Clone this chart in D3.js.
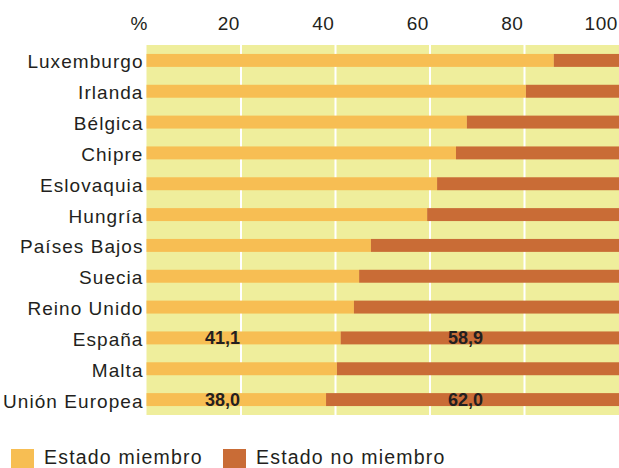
<!DOCTYPE html>
<html><head><meta charset="utf-8">
<script src="https://cdn.jsdelivr.net/npm/d3@7"></script>
<style>
html,body{margin:0;padding:0;background:#fff;}
svg{display:block;}
text{font-family:"Liberation Sans",Arial,sans-serif;fill:#231f20;}
</style></head>
<body>
<svg id="chart" width="619" height="468"></svg>
<script>
const categories = ["Luxemburgo","Irlanda","Bélgica","Chipre","Eslovaquia","Hungría","Países Bajos","Suecia","Reino Unido","España","Malta","Unión Europea"];
const memberValues = [86.2,80.3,67.8,65.5,61.5,59.4,47.5,45.0,43.9,41.1,40.3,38.0];
const nonMemberValues = memberValues.map(v => +(100 - v).toFixed(1));
const tickValues = [20,40,60,80,100];
const labelledRows = ["España","Unión Europea"];
const seriesNames = ["Estado miembro","Estado no miembro"];
const colors = {bg:"#efee9c", member:"#f7be53", nonMember:"#c96c36", grid:"#ffffff"};

(function(){
const svg = d3.select("#chart");
const mL = 146.5, mR = 619, mT = 45, mB = 415;
const x = d3.scaleLinear().domain([0,100]).range([mL,mR]);
const y = d3.scaleBand().domain(categories).range([mT,mB]).paddingInner(0.58).paddingOuter(0.29);

svg.append("rect").attr("x",mL).attr("y",mT).attr("width",mR-mL).attr("height",mB-mT).attr("fill",colors.bg);

svg.selectAll("line.grid").data(tickValues.filter(d=>d<100)).enter().append("line")
  .attr("x1",d=>x(d)).attr("x2",d=>x(d)).attr("y1",mT).attr("y2",mB)
  .attr("stroke",colors.grid).attr("stroke-width",2);

const tickG = svg.append("g");
tickG.selectAll("text").data(tickValues).enter().append("text")
  .attr("x",d=>x(d)-1).attr("y",30).attr("text-anchor","end")
  .attr("font-size",19).style("letter-spacing","0.6px").text(d=>d);
tickG.append("text").attr("x",x(0)+1).attr("y",30).attr("text-anchor","end").attr("font-size",19).text("%");

const rows = categories.map((c,i)=>({cat:c, m:memberValues[i], n:nonMemberValues[i]}));

svg.selectAll("rect.m").data(rows).enter().append("rect")
  .attr("x",x(0)).attr("y",d=>y(d.cat)).attr("width",d=>x(d.m)-x(0)).attr("height",y.bandwidth())
  .attr("fill",colors.member);
svg.selectAll("rect.n").data(rows).enter().append("rect")
  .attr("x",d=>x(d.m)).attr("y",d=>y(d.cat)).attr("width",d=>x(100)-x(d.m)).attr("height",y.bandwidth())
  .attr("fill",colors.nonMember);

svg.selectAll("text.cat").data(rows).enter().append("text")
  .attr("x",x(0)-3).attr("y",d=>y(d.cat)+y.bandwidth()/2+8)
  .attr("text-anchor","end").attr("font-size",19).style("letter-spacing","1.05px")
  .text(d=>d.cat);

const fmt = v => v.toFixed(1).replace(".",",");
const lab = rows.filter(d=>labelledRows.includes(d.cat));
svg.selectAll("text.vm").data(lab).enter().append("text")
  .attr("x",x(20)-1).attr("y",d=>y(d.cat)+y.bandwidth()/2+6.5)
  .attr("text-anchor","end").attr("font-size",18).attr("font-weight","bold").text(d=>fmt(d.m));
svg.selectAll("text.vn").data(lab).enter().append("text")
  .attr("x",x(67.5)).attr("y",d=>y(d.cat)+y.bandwidth()/2+6.5)
  .attr("text-anchor","middle").attr("font-size",18).attr("font-weight","bold").text(d=>fmt(d.n));

const legend = svg.append("g");
const legX = [11, 223];
seriesNames.forEach((s,i)=>{
  legend.append("rect").attr("x",legX[i]).attr("y",449).attr("width",23).attr("height",23)
    .attr("fill",i===0?colors.member:colors.nonMember);
  legend.append("text").attr("x",legX[i]+33).attr("y",464).attr("font-size",19.5)
    .style("letter-spacing","1.2px").text(s);
});
})();
</script>
</body></html>
